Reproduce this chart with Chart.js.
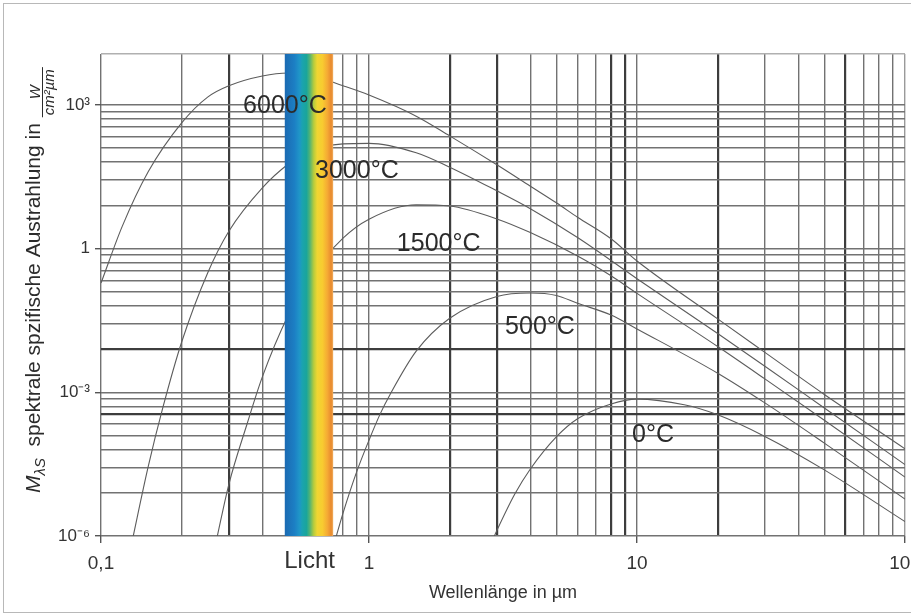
<!DOCTYPE html>
<html>
<head>
<meta charset="utf-8">
<title>Spektrale spezifische Ausstrahlung</title>
<script src="https://cdn.jsdelivr.net/npm/chart.js@4.4.1/dist/chart.umd.min.js"></script>
<style>
  html, body { margin: 0; padding: 0; background: #fff; }
  canvas { display: block; }
</style>
</head>
<body>
<canvas id="myChart" width="911" height="615"></canvas>
<script>
// Wellenlaenge in µm, Werte in W/(cm²·µm)
const lambda6000 = [0.1, 0.12, 0.15, 0.2, 0.25, 0.3, 0.4, 0.5, 0.6, 0.8, 1, 1.5, 2, 3, 4, 5, 6, 8, 10, 20, 30, 50, 100];
const m6000 = [0.19, 2.9, 40, 420, 1450, 2500, 4000, 4600, 4200, 2500, 1600, 580, 225, 56, 20, 9, 4.5, 1.6, 0.55, 0.034, 0.0068, 9e-4, 6.6e-5];

const lambda3000 = [0.13, 0.15, 0.17, 0.2, 0.25, 0.3, 0.4, 0.5, 0.6, 0.8, 1, 1.5, 2, 3, 4, 6, 10, 20, 30, 50, 100];
const m3000 = [6.8e-7, 2.8e-5, 4.7e-4, 0.0112, 0.31, 2.3, 18.5, 58, 110, 153, 157, 100, 50, 16, 6.8, 1.7, 0.235, 0.0168, 0.0035, 4.7e-4, 3.1e-5];

const lambda1500 = [0.27, 0.3, 0.35, 0.4, 0.5, 0.6, 0.8, 1, 1.5, 2, 3, 4, 6, 8, 10, 20, 30, 50, 100];
const m1500 = [8.5e-7, 1.2e-5, 2.1e-4, 0.0021, 0.041, 0.245, 1.65, 4.1, 8.2, 7.7, 4.15, 2.15, 0.7, 0.27, 0.116, 0.009, 0.0019, 2.6e-4, 1.7e-5];

const lambda500 = [0.75, 0.8, 0.9, 1, 1.1, 1.2, 1.5, 2, 3, 4, 5, 6, 8, 10, 20, 30, 50, 100];
const m500 = [8.7e-7, 3e-6, 2.2e-5, 1e-4, 3.5e-4, 9.1e-4, 0.0072, 0.035, 0.1, 0.118, 0.105, 0.072, 0.041, 0.021, 0.0025, 6e-4, 8.7e-5, 5.9e-6];

const lambda0 = [2.9, 3, 3.5, 4, 5, 6, 8, 10, 15, 20, 30, 50, 100];
const m0 = [8.5e-7, 1.3e-6, 7.5e-6, 2.5e-5, 1.17e-4, 2.8e-4, 5.7e-4, 7.2e-4, 5.5e-4, 3.4e-4, 1.2e-4, 2.4e-5, 2e-6];

// Beschriftung der Kurven (Lage in Datenwerten)
const curveLabels = ["6000°C", "3000°C", "1500°C", "500°C", "0°C"];
const curveLabelLambda = [0.339, 0.629, 1.27, 3.22, 9.58];
const curveLabelM = [948, 41.7, 1.25, 0.0231, 1.29e-4];

// sichtbares Licht
const lichtBand = [0.485, 0.735];

// Achsen
const xMin = 0.1, xMax = 100;
const yMin = 1e-6, yMax = 1.15e4;
const xDecades = [0.1, 1, 10];
const xSteps = [1, 2, 3, 4, 5, 6, 7, 8, 9];
const xLabelValues = [0.1, 0.6, 1, 10, 100];
const xLabels = ["0,1", "Licht", "1", "10", "100"];
const yDecades = [1e-6, 1e-3, 1];
const yCubes = [1, 8, 27, 64, 125, 216, 343, 512, 729];
const yLabelValues = [1e-6, 1e-3, 1, 1000];
const yLabels = ["10⁻⁶", "10⁻³", "1", "10³"];
// im Scan dunkler gedruckte Gitterlinien
const xDark = [0.3, 2, 3, 8, 9, 20, 60];
const yDark = [8e-3, 3.43e-4];

const FONT = '"Liberation Sans", Arial, Helvetica, sans-serif';

function near(a, b) {
  return Math.abs(Math.log10(a) - Math.log10(b)) < 1e-6;
}
function findIn(list, v) {
  for (let i = 0; i < list.length; i++) {
    if (near(list[i], v)) return i;
  }
  return -1;
}
function pts(xs, ys) {
  return xs.map((x, i) => ({ x: x, y: ys[i] }));
}

let xGrid = [];
xDecades.forEach((d) => xSteps.forEach((s) => xGrid.push(d * s)));
xGrid.push(xMax);

let yGrid = [];
yDecades.forEach((d) => yCubes.forEach((c) => yGrid.push(d * c)));
yGrid.push(1000);
yGrid.push(yMax);

const bandColors = ["#1b6ab2", "#1c7fc4", "#1f95c8", "#1aa3b0", "#1aa59a", "#55b472", "#b8cc3c", "#efd632", "#f8cb30", "#f5aa34", "#e8892e", "#f0b060"];
const bandStops = [0, 0.2, 0.3, 0.36, 0.45, 0.52, 0.6, 0.67, 0.78, 0.88, 0.96, 1];

const lightPlugin = {
  id: "licht",
  beforeDraw(chart) {
    const ctx = chart.ctx;
    ctx.save();
    ctx.fillStyle = "#fff";
    ctx.fillRect(0, 0, chart.width, chart.height);
    ctx.strokeStyle = "#b8b8b8";
    ctx.lineWidth = 1;
    ctx.strokeRect(3.5, 3.5, chart.width, chart.height - 6);
    ctx.restore();
  },
  afterDatasetsDraw(chart) {
    const ctx = chart.ctx;
    const xs = chart.scales.x, ys = chart.scales.y;
    const area = chart.chartArea;
    const x0 = xs.getPixelForValue(lichtBand[0]);
    const x1 = xs.getPixelForValue(lichtBand[1]);
    ctx.save();
    let g = ctx.createLinearGradient(x0, 0, x1, 0);
    bandColors.forEach((c, i) => g.addColorStop(bandStops[i], c));
    ctx.fillStyle = g;
    ctx.fillRect(x0, area.top, x1 - x0, area.bottom - area.top);

    ctx.font = "25px " + FONT;
    ctx.fillStyle = "#2b2b2b";
    ctx.textAlign = "left";
    ctx.textBaseline = "middle";
    for (let i = 0; i < curveLabels.length; i++) {
      ctx.fillText(curveLabels[i], xs.getPixelForValue(curveLabelLambda[i]), ys.getPixelForValue(curveLabelM[i]));
    }
    ctx.restore();
  },
  afterDraw(chart) {
    // y-Achsentitel mit Bruch
    const ctx = chart.ctx;
    ctx.save();
    ctx.translate(40, 493);
    ctx.rotate(-Math.PI / 2);
    ctx.fillStyle = "#2b2b2b";
    ctx.textBaseline = "alphabetic";
    ctx.textAlign = "left";
    let x = 0;
    ctx.font = "italic 21px " + FONT;
    ctx.fillText("M", x, 0);
    x += ctx.measureText("M").width;
    ctx.font = "italic 15px " + FONT;
    ctx.fillText("λS", x, 5);
    x += ctx.measureText("λS").width;
    ctx.font = "21px " + FONT;
    const t = "  spektrale spzifische Austrahlung in ";
    ctx.fillText(t, x, 0);
    x += ctx.measureText(t).width;
    ctx.font = "italic 15px " + FONT;
    const den = "cm²µm";
    const w = ctx.measureText(den).width + 4;
    ctx.textAlign = "center";
    ctx.fillText("W", x + w / 2, 0);
    ctx.fillRect(x, 2, w, 1);
    ctx.fillText(den, x + w / 2, 14);
    ctx.restore();
  }
};

const lineStyle = {
  borderColor: "#5c5c5c",
  borderWidth: 1.1,
  pointRadius: 0,
  fill: false,
  cubicInterpolationMode: "monotone"
};

const data = {
  datasets: [
    Object.assign({ label: "6000°C", data: pts(lambda6000, m6000) }, lineStyle),
    Object.assign({ label: "3000°C", data: pts(lambda3000, m3000) }, lineStyle),
    Object.assign({ label: "1500°C", data: pts(lambda1500, m1500) }, lineStyle),
    Object.assign({ label: "500°C", data: pts(lambda500, m500) }, lineStyle),
    Object.assign({ label: "0°C", data: pts(lambda0, m0) }, lineStyle)
  ]
};

const config = {
  type: "line",
  data: data,
  plugins: [lightPlugin],
  options: {
    responsive: false,
    animation: false,
    devicePixelRatio: 1,
    layout: { padding: { left: 0, right: 6, top: 54, bottom: 0 } },
    plugins: {
      legend: { display: false },
      tooltip: { enabled: false }
    },
    scales: {
      x: {
        type: "logarithmic",
        min: xMin,
        max: xMax,
        afterBuildTicks: (scale) => {
          scale.ticks = xGrid.map((v) => ({ value: v }));
        },
        afterFit: (scale) => {
          scale.height = 79;
          scale.paddingLeft = 0;
          scale.paddingRight = 0;
        },
        border: { display: false },
        grid: {
          color: (ctx) => {
            if (!ctx.tick) return "#727272";
            if (near(ctx.tick.value, xMax)) return "#9a9a9a";
            return findIn(xDark, ctx.tick.value) >= 0 ? "#3d3d3d" : "#727272";
          },
          lineWidth: (ctx) => (ctx.tick && findIn(xDark, ctx.tick.value) >= 0 ? 2.2 : 1.4),
          tickLength: 7,
          tickColor: (ctx) => {
            if (!ctx.tick) return "rgba(0,0,0,0)";
            const i = findIn(xLabelValues, ctx.tick.value);
            return i >= 0 && xLabels[i] !== "Licht" ? "#555" : "rgba(0,0,0,0)";
          }
        },
        ticks: {
          autoSkip: false,
          maxRotation: 0,
          minRotation: 0,
          padding: 9,
          color: "#333",
          font: (ctx) => {
            const v = ctx.tick ? ctx.tick.value : 0;
            const i = findIn(xLabelValues, v);
            if (i >= 0 && xLabels[i] === "Licht") {
              return { family: FONT, size: 24, lineHeight: 0.75 };
            }
            return { family: FONT, size: 19, lineHeight: 1.2 };
          },
          callback: (value) => {
            const i = findIn(xLabelValues, value);
            return i >= 0 ? xLabels[i] : "";
          }
        },
        title: {
          display: true,
          text: "Wellenlänge in µm",
          color: "#333",
          font: { family: FONT, size: 18 },
          padding: { top: 0, bottom: 11 }
        }
      },
      y: {
        type: "logarithmic",
        min: yMin,
        max: yMax,
        afterBuildTicks: (scale) => {
          scale.ticks = yGrid.map((v) => ({ value: v }));
        },
        afterFit: (scale) => {
          scale.width = 101;
          scale.paddingTop = 0;
          scale.paddingBottom = 0;
        },
        border: { display: false },
        grid: {
          color: (ctx) => {
            if (!ctx.tick) return "#727272";
            if (near(ctx.tick.value, yMax)) return "#b0b0b0";
            return findIn(yDark, ctx.tick.value) >= 0 ? "#3d3d3d" : "#727272";
          },
          lineWidth: (ctx) => (ctx.tick && findIn(yDark, ctx.tick.value) >= 0 ? 2.2 : 1.4),
          tickLength: 6,
          tickColor: (ctx) => (ctx.tick && findIn(yLabelValues, ctx.tick.value) >= 0 ? "#555" : "rgba(0,0,0,0)")
        },
        ticks: {
          autoSkip: false,
          padding: 5,
          color: "#333",
          font: { family: FONT, size: 17 },
          callback: (value) => {
            const i = findIn(yLabelValues, value);
            return i >= 0 ? yLabels[i] : "";
          }
        }
      }
    }
  }
};

const myChart = new Chart(document.getElementById("myChart"), config);
</script>
</body>
</html>
